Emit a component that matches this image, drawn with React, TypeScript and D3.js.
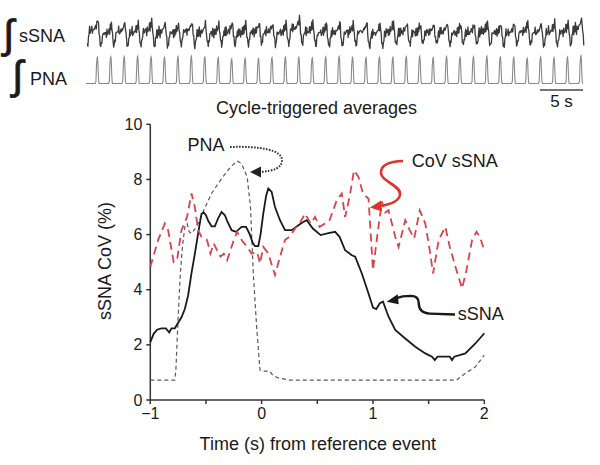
import React from "react";
import * as d3 from "d3";

const FONT = "'Liberation Sans', Arial, Helvetica, sans-serif";

// ---------- Cycle-triggered averages (time s, value %) ----------
const timeTicks = [-1, 0, 1, 2];
const timeMinorTicks = [-1, -0.5, 0, 0.5, 1, 1.5, 2];
const covTicks = [0, 2, 4, 6, 8, 10];

const sSNAAverage: [number, number][] = [
  [-1, 2.1], [-0.97, 2.4], [-0.94, 2.55], [-0.9, 2.6], [-0.86, 2.6], [-0.83, 2.45], [-0.81, 2.6],
  [-0.78, 2.6], [-0.75, 2.8], [-0.72, 3.0], [-0.69, 3.3], [-0.66, 3.8], [-0.63, 4.6], [-0.6, 5.3],
  [-0.58, 5.8], [-0.56, 6.3], [-0.54, 6.75], [-0.52, 6.8], [-0.5, 6.7], [-0.48, 6.5], [-0.45, 6.3],
  [-0.42, 6.3], [-0.39, 6.6], [-0.36, 6.82], [-0.33, 6.7], [-0.31, 6.5], [-0.27, 6.16], [-0.23, 6.1],
  [-0.18, 6.28], [-0.14, 6.28], [-0.11, 6.04], [-0.08, 5.7], [-0.06, 5.58], [-0.03, 5.58], [-0.01, 6.0],
  [0.015, 6.77], [0.04, 7.4], [0.06, 7.67], [0.09, 7.55], [0.12, 7.0], [0.165, 6.52], [0.21, 6.16],
  [0.27, 6.16], [0.33, 6.34], [0.37, 6.45], [0.405, 6.52], [0.46, 6.22], [0.53, 5.98], [0.6, 6.05],
  [0.66, 6.1], [0.7, 5.92], [0.75, 5.43], [0.81, 5.25], [0.84, 5.2], [0.9, 4.59], [0.96, 3.86],
  [1.0, 3.35], [1.03, 3.3], [1.06, 3.5], [1.09, 3.57], [1.14, 3.02], [1.2, 2.54], [1.29, 2.23],
  [1.38, 1.93], [1.47, 1.69], [1.53, 1.57], [1.555, 1.45], [1.58, 1.57], [1.69, 1.57], [1.71, 1.45],
  [1.73, 1.57], [1.83, 1.69], [1.92, 2.05], [2.0, 2.42],
];

const pnaAverage: [number, number][] = [
  [-1, 0.72], [-0.78, 0.72], [-0.77, 1.1], [-0.75, 3.0], [-0.73, 4.6], [-0.71, 5.6], [-0.69, 6.28],
  [-0.67, 6.4], [-0.65, 6.1], [-0.63, 6.04], [-0.6, 6.2], [-0.57, 6.4], [-0.52, 6.88], [-0.45, 7.49],
  [-0.36, 8.03], [-0.28, 8.45], [-0.22, 8.67], [-0.18, 8.57], [-0.13, 8.09], [-0.1, 7.0],
  [-0.075, 4.6], [-0.045, 2.66], [-0.015, 1.09], [0.0, 1.05], [0.07, 1.05], [0.1, 0.9], [0.15, 0.8],
  [0.25, 0.72], [1.75, 0.72], [1.83, 0.97], [1.92, 1.2], [2.0, 1.63],
];

const covAverage: [number, number][] = [
  [-1, 4.83], [-0.93, 5.8], [-0.87, 6.4], [-0.84, 6.16], [-0.79, 5.0], [-0.76, 5.07], [-0.72, 6.16],
  [-0.67, 6.64], [-0.63, 7.49], [-0.6, 7.0], [-0.57, 6.16], [-0.54, 5.92], [-0.49, 5.8], [-0.46, 5.31],
  [-0.43, 5.68], [-0.4, 5.43], [-0.37, 5.2], [-0.34, 5.31], [-0.31, 5.07], [-0.25, 5.8], [-0.22, 6.1],
  [-0.18, 5.8], [-0.13, 5.55], [-0.09, 5.31], [-0.04, 5.37], [-0.015, 4.95], [0.015, 5.55],
  [0.06, 5.31], [0.12, 4.53], [0.165, 5.2], [0.21, 5.8], [0.25, 5.92], [0.3, 6.22], [0.34, 6.4],
  [0.39, 6.76], [0.44, 6.4], [0.48, 6.64], [0.52, 6.28], [0.57, 6.4], [0.61, 6.52], [0.675, 7.25],
  [0.72, 7.49], [0.75, 6.64], [0.79, 7.37], [0.83, 8.33], [0.87, 8.09], [0.91, 7.49], [0.96, 7.3],
  [1.0, 4.71], [1.04, 6.0], [1.08, 7.2], [1.11, 6.8], [1.14, 6.88], [1.2, 5.92], [1.23, 5.55],
  [1.29, 6.52], [1.33, 6.16], [1.37, 5.86], [1.42, 6.88], [1.47, 6.4], [1.51, 5.43], [1.54, 4.59],
  [1.59, 5.8], [1.65, 6.28], [1.69, 5.55], [1.75, 4.71], [1.8, 4.05], [1.84, 4.71], [1.89, 5.8],
  [1.93, 6.1], [1.96, 5.92], [2.0, 5.43],
];

// ---------- Raw integrated traces (per respiratory cycle) ----------
const cycleCount = 37;
const pnaBurstPeaks = [
  0.93, 0.95, 0.96, 0.97, 0.95, 0.93, 0.96, 0.97, 0.94, 0.92, 0.88, 0.9, 0.89, 0.92, 0.94, 0.93, 0.91,
  0.95, 0.96, 0.93, 0.92, 0.94, 0.93, 0.95, 0.97, 0.92, 0.96, 0.93, 0.95, 0.97, 0.94, 0.93, 0.9, 0.95,
  0.92, 0.94, 0.99,
];
const pnaBurstShape: [number, number][] = [
  [0, 0], [0.68, 0], [0.74, 0.08], [0.78, 0.7], [0.82, 0.97], [0.85, 1], [0.88, 0.85], [0.92, 0.3],
  [0.95, 0.05], [0.98, 0],
];
const sSNAPeaks = [
  0.95, 0.8, 0.85, 0.82, 0.9, 0.85, 0.8, 0.88, 0.82, 0.78, 0.85, 0.8, 0.83, 0.8, 0.82, 1.0, 0.85, 0.8,
  0.84, 0.82, 0.86, 0.8, 0.85, 0.82, 0.8, 0.78, 0.83, 0.8, 0.78, 0.85, 0.8, 0.83, 0.85, 0.82, 0.86,
  0.84, 0.98,
];
const sSNATroughs = [
  0.1, 0.05, 0.12, 0.08, 0.1, 0.05, 0.1, 0.12, 0.08, 0.15, 0.1, 0.12, 0.15, 0.2, 0.1, 0.15, 0.12, 0.1,
  0.08, 0.12, 0.1, 0.05, 0.1, 0.15, 0.12, 0.2, 0.15, 0.1, 0.18, 0.12, 0.1, 0.08, 0.12, 0.1, 0.08, 0.1,
  0.12,
];
const sSNACycleShape = [
  0.05, 0.12, 0.3, 0.5, 0.62, 0.5, 0.66, 0.55, 0.72, 0.6, 0.5, 0.64, 0.58, 0.7, 0.62, 0.78, 0.7,
  0.88, 0.8, 1.0, 0.82, 0.5, 0.3, 0.12,
];
const sSNAFineDetail = [
  0.6, -0.8, 0.3, -0.4, 0.9, -0.2, -0.7, 0.5, 0.1, -0.9, 0.7, -0.3, 0.4, -0.6, 0.8, -0.1, -0.5, 0.2,
  0.9, -0.8, 0.3, -0.4, 0.6, -0.5, 0.2, 0.7, -0.6, 0.1, -0.3, 0.8, -0.7,
];
const scaleBarSeconds = 5;
const traceSeconds = 57.8;

export default function App() {
  const x = d3.scaleLinear().domain([-1, 2]).range([150.3, 484.3]);
  const y = d3.scaleLinear().domain([0, 10]).range([400, 124.3]);

  const line = d3
    .line<[number, number]>()
    .x((d) => x(d[0]))
    .y((d) => y(d[1]));

  // top traces
  const cx = d3.scaleLinear().domain([0, cycleCount]).range([86, 583]);
  const sy = d3.scaleLinear().domain([0, 1]).range([50, 17]);
  const py = d3.scaleLinear().domain([0, 1]).range([83.5, 55.5]);
  const secX = d3.scaleLinear().domain([0, traceSeconds]).range([86, 583]);

  const sPts: [number, number][] = [];
  const n = sSNACycleShape.length;
  for (let k = 0; k < cycleCount; k++) {
    for (let i = 0; i < n; i++) {
      const v =
        sSNATroughs[k] +
        (sSNAPeaks[k] - sSNATroughs[k]) * sSNACycleShape[i] +
        0.11 * sSNAFineDetail[(k * n + i) % sSNAFineDetail.length];
      sPts.push([k + 0.1 + i / n, v]);
    }
  }
  const sLine = d3
    .line<[number, number]>()
    .x((d) => cx(d[0]))
    .y((d) => sy(d[1]));

  const pPts: [number, number][] = [];
  for (let k = 0; k < cycleCount; k++) {
    for (const [p, a] of pnaBurstShape) pPts.push([k + p, a * pnaBurstPeaks[k]]);
  }
  pPts.push([cycleCount, 0]);
  const pLine = d3
    .line<[number, number]>()
    .x((d) => cx(d[0]))
    .y((d) => py(d[1]));

  // annotation anchors (arrow tips in data space)
  const pnaTip = [x(-0.1045), y(8.27)];
  const covTip = [x(0.9735), y(6.98)];
  const sTip = [x(1.1234), y(3.56)];

  const axisColor = "#333";
  const textColor = "#1a1a1a";

  return (
    <svg
      width={600}
      height={465}
      style={{ position: "absolute", left: 0, top: 0, background: "#fff" }}
      fontFamily={FONT}
    >
      {/* ---- raw traces ---- */}
      <text x={3} y={48} fontSize={40} fill={textColor} stroke={textColor} strokeWidth={0.8}>∫</text>
      <text x={19} y={42} fontSize={18} fill={textColor}>sSNA</text>
      <text x={12} y={89} fontSize={40} fill={textColor} stroke={textColor} strokeWidth={0.8}>∫</text>
      <text x={30} y={85} fontSize={18} fill={textColor}>PNA</text>
      <path d={sLine(sPts) || ""} fill="none" stroke="#3a3a3a" strokeWidth={1.3} strokeLinejoin="round" />
      <path d={pLine(pPts) || ""} fill="none" stroke="#8a8a8a" strokeWidth={1.1} />
      <line
        x1={secX(traceSeconds) - (secX(scaleBarSeconds) - secX(0))}
        x2={secX(traceSeconds)}
        y1={90}
        y2={90}
        stroke="#444"
        strokeWidth={1.6}
      />
      <text
        x={secX(traceSeconds) - (secX(scaleBarSeconds) - secX(0)) / 2}
        y={107}
        fontSize={17}
        textAnchor="middle"
        fill={textColor}
      >
        {scaleBarSeconds} s
      </text>

      {/* ---- title ---- */}
      <text x={316.5} y={114} fontSize={18} textAnchor="middle" fill={textColor}>
        Cycle-triggered averages
      </text>

      {/* ---- axes ---- */}
      <line x1={x(-1)} x2={x(-1)} y1={y(10)} y2={y(0)} stroke={axisColor} strokeWidth={1.5} />
      <line x1={x(-1)} x2={x(2)} y1={y(0)} y2={y(0)} stroke={axisColor} strokeWidth={1.5} />
      {covTicks.map((t) => (
        <g key={"y" + t}>
          <line x1={x(-1) - 4} x2={x(-1)} y1={y(t)} y2={y(t)} stroke={axisColor} strokeWidth={1.5} />
          <text x={x(-1) - 8} y={y(t)} dy="0.35em" fontSize={16} textAnchor="end" fill={textColor}>
            {t}
          </text>
        </g>
      ))}
      {timeMinorTicks.map((t) => (
        <line key={"xm" + t} x1={x(t)} x2={x(t)} y1={y(0)} y2={y(0) + 4} stroke={axisColor} strokeWidth={1.5} />
      ))}
      {timeTicks.map((t) => (
        <text key={"x" + t} x={x(t)} y={419} fontSize={16} textAnchor="middle" fill={textColor}>
          {t < 0 ? "\u2212" + Math.abs(t) : t}
        </text>
      ))}
      <text x={317.8} y={449.5} fontSize={18} textAnchor="middle" fill={textColor}>
        Time (s) from reference event
      </text>
      <text
        transform={`translate(111,261) rotate(-90)`}
        fontSize={18}
        textAnchor="middle"
        fill={textColor}
      >
        sSNA CoV (%)
      </text>

      {/* ---- averages ---- */}
      <path d={line(pnaAverage) || ""} fill="none" stroke="#5a5a5a" strokeWidth={1.2} strokeDasharray="4 3" />
      <path d={line(sSNAAverage) || ""} fill="none" stroke="#1a1a1a" strokeWidth={1.8} />
      <path d={line(covAverage) || ""} fill="none" stroke="#d8434a" strokeWidth={1.8} strokeDasharray="8 5" />

      {/* ---- annotations ---- */}
      <g transform={`translate(${pnaTip[0]},${pnaTip[1]})`}>
        <path
          d="M-20,-25 C10,-26 32,-22 32,-12 C32,-4 24,-1 10,0"
          fill="none"
          stroke="#333"
          strokeWidth={2}
          strokeDasharray="1.6 1.4"
        />
        <polygon points="0,0 11,-5.5 11,5.5" fill="#222" />
        <text x={-62.5} y={-21} fontSize={18} fill={textColor}>PNA</text>
      </g>
      <g transform={`translate(${covTip[0]},${covTip[1]})`}>
        <path
          d="M33,-46.5 C20,-46 10,-43 11,-34 C12,-26 31,-22 30,-13 C29,-6 20,-3 9,-1.5"
          fill="none"
          stroke="#e0322b"
          strokeWidth={2.6}
        />
        <polygon points="0,0 11,-7 12,4" fill="#e0322b" />
        <text x={41.7} y={-41} fontSize={18} fill={textColor}>CoV sSNA</text>
      </g>
      <g transform={`translate(${sTip[0]},${sTip[1]})`}>
        <path
          d="M68.3,12.6 L43,11.8 C35,11.5 32,7 32,1 C32,-4 29,-6 24,-6 L16,-5.5 L9,-3.5"
          fill="none"
          stroke="#1a1a1a"
          strokeWidth={2.4}
        />
        <polygon points="0,0 11,-7.5 12,2.5" fill="#1a1a1a" />
        <text x={71} y={18.5} fontSize={18} fill={textColor}>sSNA</text>
      </g>
    </svg>
  );
}
